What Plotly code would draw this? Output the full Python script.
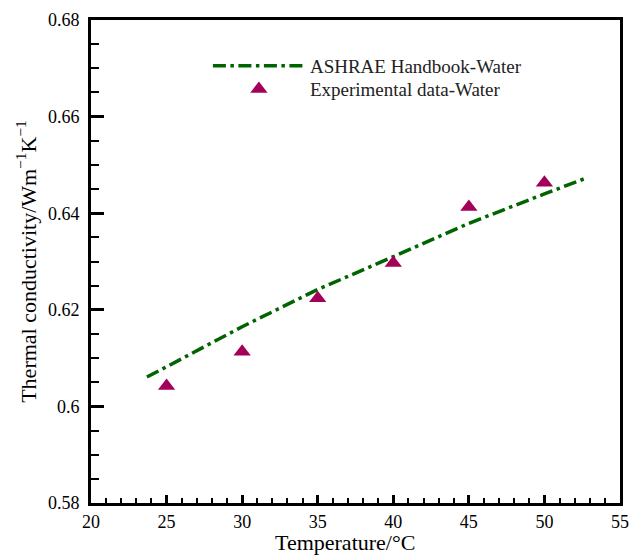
import plotly.graph_objects as go

# Data
ashrae_temp = [23.7, 25, 30, 35, 40, 45, 50, 52.7]
ashrae_k = [0.6061, 0.6082, 0.6165, 0.6242, 0.6310, 0.6379, 0.6440, 0.6472]
exp_temp = [25, 30, 35, 40, 45, 50]
exp_k = [0.6042, 0.6113, 0.6224, 0.6297, 0.6413, 0.6463]

x_tickvals = [20, 25, 30, 35, 40, 45, 50, 55]
x_ticktext = ["20", "25", "30", "35", "40", "45", "50", "55"]
y_tickvals = [0.58, 0.60, 0.62, 0.64, 0.66, 0.68]
y_ticktext = ["0.58", "0.6", "0.62", "0.64", "0.66", "0.68"]

FONT = "Liberation Serif"
GREEN = "#006400"
MAROON = "#A3005A"

fig = go.Figure()
fig.add_trace(go.Scatter(
    x=ashrae_temp, y=ashrae_k, mode="lines",
    name="ASHRAE Handbook-Water", legend="legend",
    line=dict(color=GREEN, width=3.5, dash="13px,4.5px,3.5px,4.5px"),
))
fig.add_trace(go.Scatter(
    x=exp_temp, y=exp_k, mode="markers",
    name="Experimental data-Water", legend="legend2",
    marker=dict(symbol="triangle-up", size=15, color=MAROON, line=dict(width=0)),
))

legend_common = dict(
    xanchor="left", yanchor="middle",
    bgcolor="rgba(0,0,0,0)", borderwidth=0,
    font=dict(family=FONT, size=19, color="#222"),
    itemwidth=92,
)

fig.update_layout(
    width=630, height=558,
    margin=dict(l=91, r=10, t=20, b=55),
    paper_bgcolor="white", plot_bgcolor="white",
    font=dict(family=FONT, size=18, color="black"),
    showlegend=True,
    legend=dict(x=0.221, y=0.905, **legend_common),
    legend2=dict(x=0.221, y=0.857, **legend_common),
    annotations=[dict(
        text="Temperature/°C", xref="paper", yref="paper",
        x=0.481, y=0, xanchor="center", yanchor="bottom", yshift=-54,
        showarrow=False, font=dict(family=FONT, size=22, color="black"),
    )],
)

fig.update_xaxes(
    range=[20, 55], tickvals=x_tickvals, ticktext=x_ticktext,
    automargin=False,
    showgrid=False, zeroline=False,
    showline=True, linecolor="black", linewidth=3, mirror=True,
    ticks="inside", ticklen=8, tickwidth=2.5, tickcolor="black",
    minor=dict(ticks="inside", dtick=1, ticklen=5, tickwidth=1.5, tickcolor="black", showgrid=False),
    tickfont=dict(family=FONT, size=18, color="black"),
)
fig.update_yaxes(
    range=[0.58, 0.68], tickvals=y_tickvals, ticktext=y_ticktext,
    automargin=False,
    showgrid=False, zeroline=False,
    showline=True, linecolor="black", linewidth=3, mirror=True,
    ticks="inside", ticklen=13, tickwidth=2.5, tickcolor="black",
    ticklabelstandoff=5,
    minor=dict(ticks="inside", dtick=0.005, ticklen=8, tickwidth=1.5, tickcolor="black", showgrid=False),
    tickfont=dict(family=FONT, size=18, color="black"),
    title=dict(text="Thermal conductivity/Wm<sup>−1</sup>K<sup>−1</sup>",
               font=dict(family=FONT, size=22, color="black"), standoff=6),
)

fig.write_html("out.html",
               config={"displayModeBar": False},
               post_script="document.body.style.margin='0';document.body.style.padding='0';")
